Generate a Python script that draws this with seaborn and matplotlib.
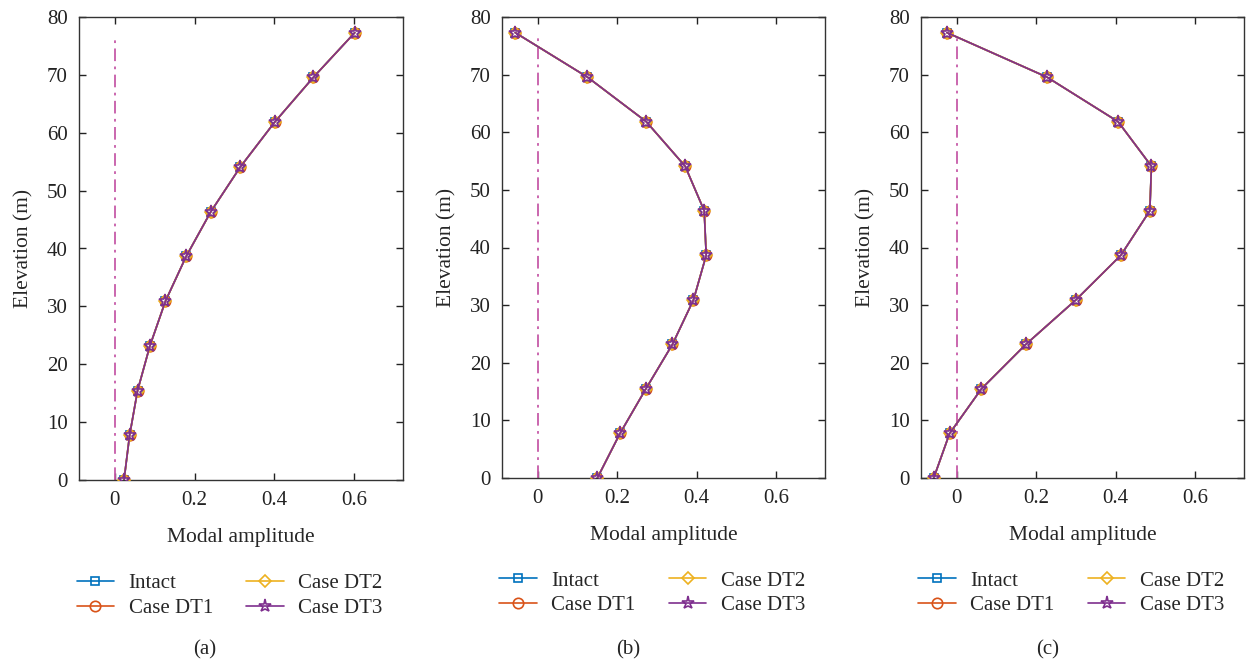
import numpy as np
import pandas as pd
import matplotlib
matplotlib.use("Agg")
import matplotlib.pyplot as plt
import seaborn as sns

# ----------------------------
# DATA
# ----------------------------
elevation = [0.0, 7.73, 15.46, 23.19, 30.92, 38.65, 46.38, 54.11, 61.84, 69.57, 77.3]

# mode shapes, panels (a), (b), (c) - all four cases overlap in the picture
amp_a = [0.023, 0.037, 0.057, 0.088, 0.127, 0.179, 0.241, 0.315, 0.401, 0.498, 0.602]
amp_b = [0.150, 0.207, 0.272, 0.339, 0.392, 0.424, 0.419, 0.371, 0.273, 0.125, -0.057]
amp_c = [-0.058, -0.018, 0.062, 0.174, 0.300, 0.413, 0.486, 0.490, 0.406, 0.227, -0.025]

cases = ["Intact", "Case DT1", "Case DT2", "Case DT3"]
panel_labels = ["(a)", "(b)", "(c)"]

zero_x = [0, 0]
zero_y = [0, 76.5]

# ----------------------------
# STYLE
# ----------------------------
sns.set_style("ticks", {"xtick.direction": "in", "ytick.direction": "in",
                        "xtick.top": True, "ytick.right": True,
                        "axes.edgecolor": "#333333"})
plt.rcParams["font.family"] = ["Liberation Serif", "DejaVu Serif"]
plt.rcParams["font.size"] = 15

colors = ["#0072BD", "#D95319", "#EDB120", "#7E2F8E"]
markers = ["s", "o", "D", "*"]
msizes = [6, 7.5, 6.5, 9.5]

fig = plt.figure(figsize=(12.47, 6.63), dpi=100)
axes_pos = [
    [79 / 1247, 1 - 480 / 663, 324 / 1247, 463 / 663],
    [502 / 1247, 1 - 478 / 663, 323 / 1247, 461 / 663],
    [921 / 1247, 1 - 478 / 663, 323 / 1247, 461 / 663],
]
label_x = [205 / 1247, 628 / 1247, 1048 / 1247]

for k, amp in enumerate([amp_a, amp_b, amp_c]):
    ax = fig.add_axes(axes_pos[k])
    ax.plot(zero_x, zero_y, linestyle=(0, (7, 3, 1.5, 3)), color="#c65aa8", lw=1.3, zorder=1)

    df = pd.DataFrame({"amp": amp, "elev": elevation})
    for i, name in enumerate(cases):
        sns.lineplot(data=df, x="amp", y="elev", sort=False, orient="y",
                     color=colors[i], marker=markers[i], markersize=msizes[i],
                     markerfacecolor="none", markeredgecolor=colors[i],
                     markeredgewidth=1.2, lw=1.2, label=name, ax=ax, zorder=2 + i)

    ax.set_xlim(-0.09, 0.723)
    ax.set_ylim(0, 80)
    ax.set_xticks([0, 0.2, 0.4, 0.6])
    ax.set_xticklabels(["0", "0.2", "0.4", "0.6"])
    ax.set_yticks(range(0, 81, 10))
    ax.tick_params(length=5, width=1, colors="#222222", labelsize=15, pad=8)
    ax.set_xlabel("Modal amplitude", fontsize=15.5, labelpad=13)
    ax.set_ylabel("Elevation (m)", fontsize=15.5, labelpad=10)
    for s in ax.spines.values():
        s.set_linewidth(1.0)

    ax.legend(loc="center", bbox_to_anchor=(0.465, -0.25), ncol=2, frameon=False,
              fontsize=15, handlelength=1.8, handletextpad=0.7,
              columnspacing=1.6, labelspacing=0.25)
    fig.text(label_x[k], 1 - 650 / 663, panel_labels[k], ha="center", va="center",
             fontsize=15)

plt.savefig("out.png", dpi=100)
